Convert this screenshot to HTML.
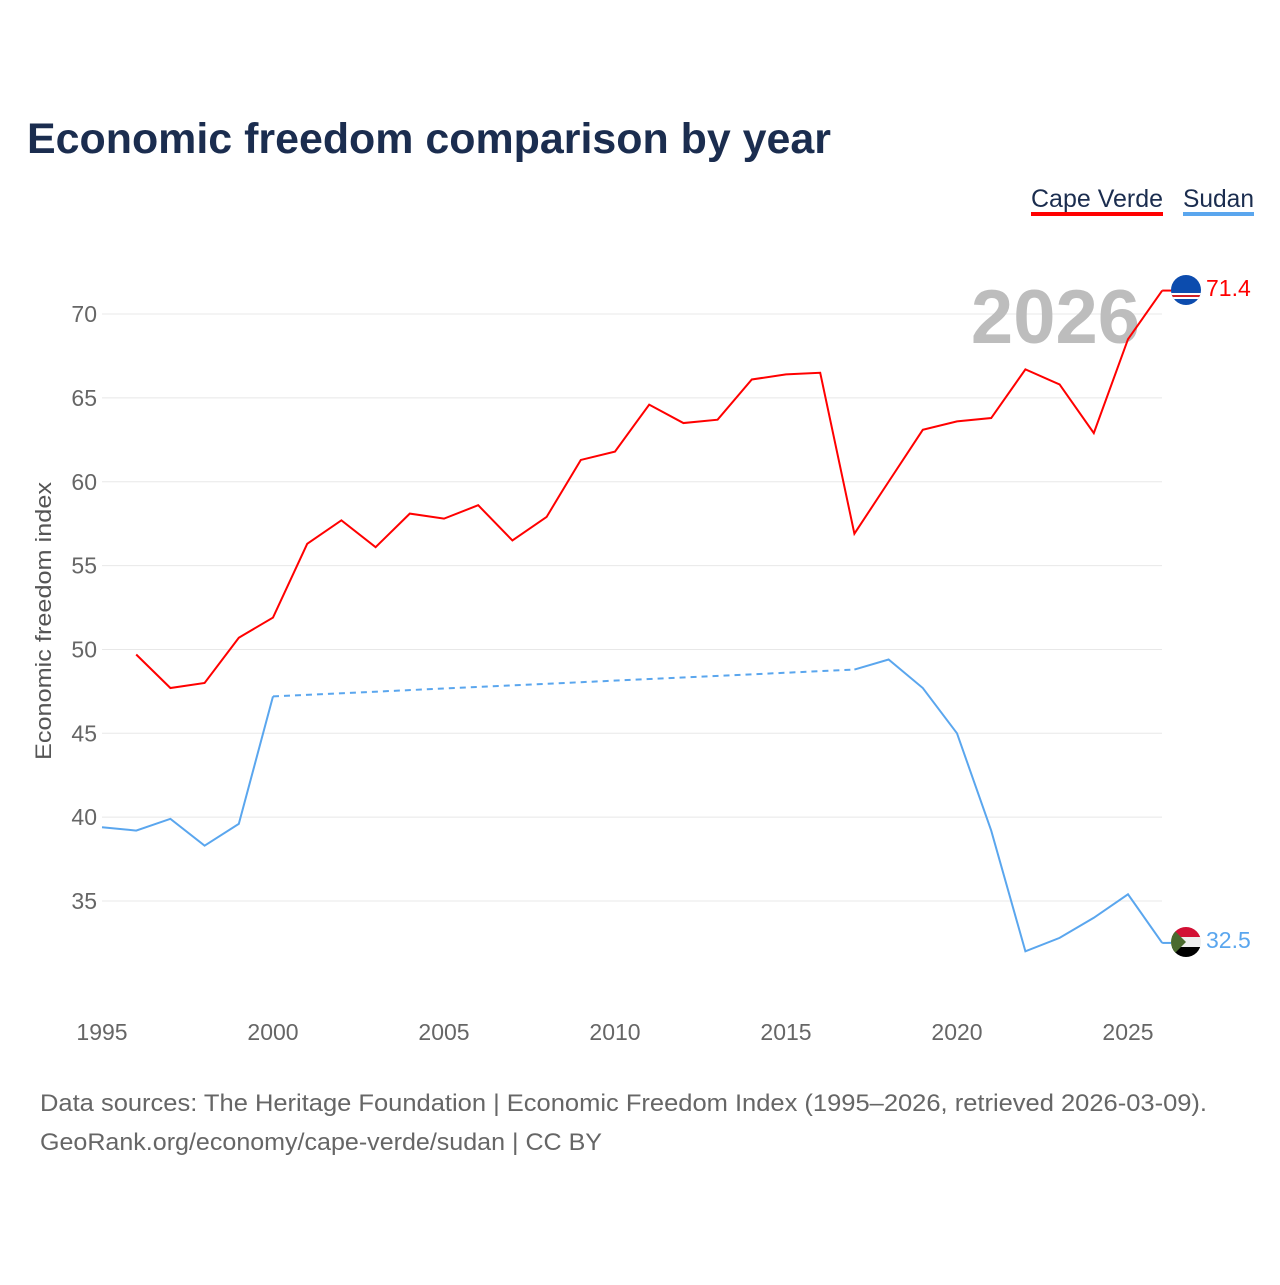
<!DOCTYPE html>
<html><head><meta charset="utf-8"><style>
body{margin:0;background:#fff;font-family:"Liberation Sans",sans-serif;}
svg text{font-family:"Liberation Sans",sans-serif;}
</style></head><body>
<svg id="chart" width="1280" height="1280" viewBox="0 0 1280 1280">
<text x="27" y="153" font-size="43" font-weight="bold" fill="#1b2d4f" textLength="804" lengthAdjust="spacingAndGlyphs">Economic freedom comparison by year</text>
<g><text x="1031" y="207" font-size="25" fill="#1b2d4f" textLength="132" lengthAdjust="spacingAndGlyphs">Cape Verde</text><rect x="1031" y="212" width="132" height="4" fill="#ff0000"/></g>
<g><text x="1183" y="207" font-size="25" fill="#1b2d4f" textLength="71" lengthAdjust="spacingAndGlyphs">Sudan</text><rect x="1183" y="212" width="71" height="4" fill="#5aa6ee"/></g>
<g id="grid"></g>
<text x="1140" y="343" font-size="76" font-weight="bold" fill="#bdbdbd" text-anchor="end">2026</text>
<g id="series"></g>
<text transform="translate(51,621) rotate(-90)" font-size="22" fill="#555" text-anchor="middle" textLength="278" lengthAdjust="spacingAndGlyphs">Economic freedom index</text>
<g>
<clipPath id="c1"><circle cx="1186" cy="290" r="15"/></clipPath>
<g clip-path="url(#c1)"><rect x="1170" y="274" width="32" height="32" fill="#0c4cae"/><rect x="1170" y="293" width="32" height="6" fill="#fff"/><rect x="1170" y="295" width="32" height="2" fill="#cf2027"/></g></g>
<g>
<clipPath id="c2"><circle cx="1186" cy="942" r="15"/></clipPath>
<g clip-path="url(#c2)"><rect x="1170" y="926" width="32" height="11" fill="#d21034"/><rect x="1170" y="937" width="32" height="10" fill="#eee"/><rect x="1170" y="947" width="32" height="11" fill="#000"/><polygon points="1170,926 1186,942 1170,958" fill="#4a6a2e"/></g></g>
<text id="lab1" x="1206" y="296" font-size="23" fill="#ff0000">71.4</text>
<text id="lab2" x="1206" y="948" font-size="23" fill="#5aa6ee">32.5</text>
<text x="40" y="1111" font-size="24" fill="#666" textLength="1167" lengthAdjust="spacingAndGlyphs">Data sources: The Heritage Foundation | Economic Freedom Index (1995–2026, retrieved 2026-03-09).</text>
<text x="40" y="1150" font-size="24" fill="#666" textLength="562" lengthAdjust="spacingAndGlyphs">GeoRank.org/economy/cape-verde/sudan | CC BY</text>
</svg>
<script>
const years=[1995,1996,1997,1998,1999,2000,2001,2002,2003,2004,2005,2006,2007,2008,2009,2010,2011,2012,2013,2014,2015,2016,2017,2018,2019,2020,2021,2022,2023,2024,2025,2026];
const capeVerde=[null,49.7,47.7,48.0,50.7,51.9,56.3,57.7,56.1,58.1,57.8,58.6,56.5,57.9,61.3,61.8,64.6,63.5,63.7,66.1,66.4,66.5,56.9,60.0,63.1,63.6,63.8,66.7,65.8,62.9,68.5,71.4];
const sudan=[39.4,39.2,39.9,38.3,39.6,47.2,null,null,null,null,null,null,null,null,null,null,null,null,null,null,null,null,48.8,49.4,47.7,45.0,39.2,32.0,32.8,34.0,35.4,32.5];
const yTicks=[35,40,45,50,55,60,65,70];
const xTicks=[1995,2000,2005,2010,2015,2020,2025];
const NS='http://www.w3.org/2000/svg';
const xS=y=>102+(y-1995)*34.2;
const yS=v=>901-(v-35)*16.77;
const grid=document.getElementById('grid'),ser=document.getElementById('series');
function mk(tag,attrs,parent){const e=document.createElementNS(NS,tag);for(const k in attrs)e.setAttribute(k,attrs[k]);parent.appendChild(e);return e;}
yTicks.forEach(t=>{
  const l=mk('line',{x1:102,x2:1162,y1:yS(t),y2:yS(t),stroke:'#e8e8e8','stroke-width':1},grid);
  
  
  const tx=mk('text',{x:97,y:yS(t)+8,'font-size':23,fill:'#666','text-anchor':'end'},grid);
  tx.textContent=t;
  
  
});
xTicks.forEach(t=>{
  const tx=mk('text',{x:xS(t),y:1040,'font-size':23,fill:'#666','text-anchor':'middle'},grid);
  tx.textContent=t;
  
  
});
function draw(vals,color,name){
  let segs=[],cur=[];
  vals.forEach((v,i)=>{if(v==null){if(cur.length)segs.push(cur);cur=[];}else cur.push([xS(years[i]),yS(v)]);});
  if(cur.length)segs.push(cur);
  segs.forEach((s,k)=>{
    const p=mk('path',{d:'M'+s.map(q=>q.join(',')).join('L'),fill:'none',stroke:color,'stroke-width':2},ser);
    
    
    if(k>0){const a=segs[k-1][segs[k-1].length-1],b=s[0];
      const d=mk('path',{d:'M'+a.join(',')+'L'+b.join(','),fill:'none',stroke:color,'stroke-width':2,'stroke-dasharray':'6,5'},ser);
      
      }
  });
  const last=vals[vals.length-1];
  const c=mk('path',{d:'M'+xS(2026)+','+yS(last)+'L1172,'+yS(last),stroke:color,'stroke-width':2},ser);
  
  
}
draw(capeVerde,'#ff0000','cape-verde');
draw(sudan,'#5aa6ee','sudan');
document.getElementById('lab1').textContent=capeVerde[capeVerde.length-1];
document.getElementById('lab2').textContent=sudan[sudan.length-1];
</script>
</body></html>
